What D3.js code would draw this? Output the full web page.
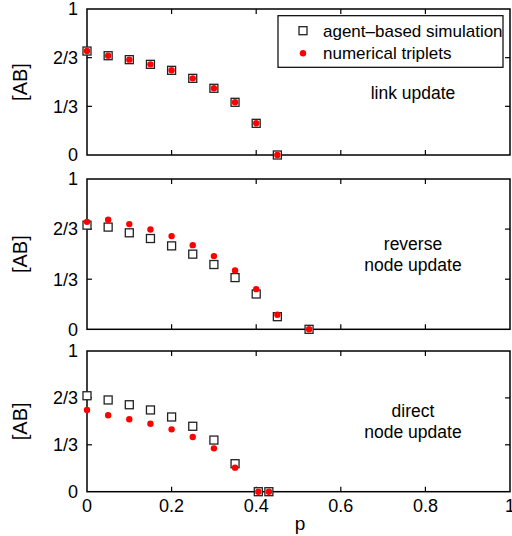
<!DOCTYPE html>
<html>
<head>
<meta charset="utf-8">
<title>[AB] vs p</title>
<script src="https://cdnjs.cloudflare.com/ajax/libs/d3/7.8.5/d3.min.js"></script>
<style>
  body { margin: 0; background: #fff; }
  svg { display: block; font-family: "Liberation Sans", Arial, sans-serif; }
</style>
</head>
<body>
<svg id="chart" width="512" height="536"></svg>
<script>
// data
const pLink = [0, 0.05, 0.1, 0.15, 0.2, 0.25, 0.3, 0.35, 0.4, 0.45];
const linkSim = [0.712, 0.680, 0.653, 0.621, 0.580, 0.525, 0.457, 0.361, 0.217, 0];
const linkTrip = [0.712, 0.680, 0.653, 0.621, 0.580, 0.525, 0.457, 0.361, 0.217, 0];

const pRev = [0, 0.05, 0.1, 0.15, 0.2, 0.25, 0.3, 0.35, 0.4, 0.45, 0.525];
const revSim = [0.693, 0.680, 0.642, 0.604, 0.555, 0.500, 0.431, 0.344, 0.235, 0.084, 0];
const revTrip = [0.715, 0.729, 0.700, 0.664, 0.620, 0.560, 0.487, 0.391, 0.267, 0.097, 0];

const pDir = [0, 0.05, 0.1, 0.15, 0.2, 0.25, 0.3, 0.35, 0.405, 0.43];
const dirSim = [0.682, 0.652, 0.618, 0.581, 0.531, 0.465, 0.367, 0.199, 0, 0];
const dirTrip = [0.581, 0.543, 0.515, 0.483, 0.443, 0.389, 0.308, 0.171, 0, 0];

const yTicks = [0, 1/3, 2/3, 1];
const yTickLabels = ['0', '1/3', '2/3', '1'];
const xTicks = [0, 0.2, 0.4, 0.6, 0.8, 1];

const panels = [
  { p: pLink, sim: linkSim, trip: linkTrip, top: 9, bottom: 155, note: ['link update'], legend: true },
  { p: pRev, sim: revSim, trip: revTrip, top: 179, bottom: 329.3, note: ['reverse', 'node update'] },
  { p: pDir, sim: dirSim, trip: dirTrip, top: 351, bottom: 491.7, note: ['direct', 'node update'], xLabels: true }
];

const svg = d3.select('#chart');
const x = d3.scaleLinear().domain([0, 1]).range([87, 510]);
const tickLen = 5;

panels.forEach(pn => {
  const y = d3.scaleLinear().domain([0, 1]).range([pn.bottom, pn.top]);
  const g = svg.append('g');

  // inward ticks on all four sides
  const inner = xTicks.slice(1, -1);
  g.selectAll('.xb').data(inner).enter().append('line')
    .attr('x1', d => x(d)).attr('x2', d => x(d))
    .attr('y1', pn.bottom).attr('y2', pn.bottom - tickLen)
    .attr('stroke', '#000').attr('stroke-width', 1.2);
  g.selectAll('.xt').data(inner).enter().append('line')
    .attr('x1', d => x(d)).attr('x2', d => x(d))
    .attr('y1', pn.top).attr('y2', pn.top + tickLen)
    .attr('stroke', '#000').attr('stroke-width', 1.2);
  const innerY = yTicks.slice(1, -1);
  g.selectAll('.yl').data(innerY).enter().append('line')
    .attr('x1', x(0)).attr('x2', x(0) + tickLen)
    .attr('y1', d => y(d)).attr('y2', d => y(d))
    .attr('stroke', '#000').attr('stroke-width', 1.2);
  g.selectAll('.yr').data(innerY).enter().append('line')
    .attr('x1', x(1)).attr('x2', x(1) - tickLen)
    .attr('y1', d => y(d)).attr('y2', d => y(d))
    .attr('stroke', '#000').attr('stroke-width', 1.2);

  // frame
  g.append('rect')
    .attr('x', x(0)).attr('y', pn.top)
    .attr('width', x(1) - x(0)).attr('height', pn.bottom - pn.top)
    .attr('fill', 'none').attr('stroke', '#000').attr('stroke-width', 1.5);

  // y tick labels
  g.selectAll('.ylab').data(yTicks).enter().append('text')
    .attr('x', 78).attr('y', d => y(d))
    .attr('dy', '0.35em').attr('text-anchor', 'end')
    .attr('font-size', 18)
    .text((d, i) => yTickLabels[i]);

  // y axis title
  g.append('text')
    .attr('transform', `translate(27,${(pn.top + pn.bottom) / 2}) rotate(-90)`)
    .attr('text-anchor', 'middle')
    .attr('font-size', 20)
    .text('[AB]');

  // note text
  g.selectAll('.note').data(pn.note).enter().append('text')
    .attr('x', 413)
    .attr('y', (d, i) => (pn.note.length === 1 ? 93 : (pn.top + pn.bottom) / 2 - 10) + i * 20.5)
    .attr('dy', '0.35em').attr('text-anchor', 'middle')
    .attr('font-size', 17.5)
    .text(d => d);

  // squares (agent-based simulation)
  const s = 8;
  g.selectAll('.sq').data(pn.p).enter().append('rect')
    .attr('x', (d, i) => x(d) - s / 2)
    .attr('y', (d, i) => y(pn.sim[i]) - s / 2)
    .attr('width', s).attr('height', s)
    .attr('fill', '#fff')
    .attr('stroke', '#222').attr('stroke-width', 1.3);

  // dots (numerical triplets)
  g.selectAll('.dot').data(pn.p).enter().append('circle')
    .attr('cx', d => x(d))
    .attr('cy', (d, i) => y(pn.trip[i]))
    .attr('r', 3.2)
    .attr('fill', '#f00');

  if (pn.xLabels) {
    g.selectAll('.xlab').data(xTicks).enter().append('text')
      .attr('x', d => x(d)).attr('y', 506)
      .attr('dy', '0.35em').attr('text-anchor', 'middle')
      .attr('font-size', 18)
      .text(d => d3.format('~g')(d));
    g.append('text')
      .attr('x', 300).attr('y', 523)
      .attr('dy', '0.35em').attr('text-anchor', 'middle')
      .attr('font-size', 19)
      .text('p');
  }

  if (pn.legend) {
    const lg = g.append('g');
    lg.append('rect')
      .attr('x', 278).attr('y', 15.7).attr('width', 225).attr('height', 51.6)
      .attr('fill', '#fff').attr('stroke', '#000').attr('stroke-width', 1.2);
    lg.append('rect')
      .attr('x', 303 - s / 2).attr('y', 30.7 - s / 2).attr('width', s).attr('height', s)
      .attr('fill', '#fff').attr('stroke', '#222').attr('stroke-width', 1.3);
    lg.append('circle').attr('cx', 303).attr('cy', 53.3).attr('r', 3.2).attr('fill', '#f00');
    lg.append('text').attr('x', 323).attr('y', 30.7).attr('dy', '0.35em')
      .attr('font-size', 17).text('agent\u2013based simulation');
    lg.append('text').attr('x', 323).attr('y', 53.3).attr('dy', '0.35em')
      .attr('font-size', 17).text('numerical triplets');
  }
});
</script>
</body>
</html>
